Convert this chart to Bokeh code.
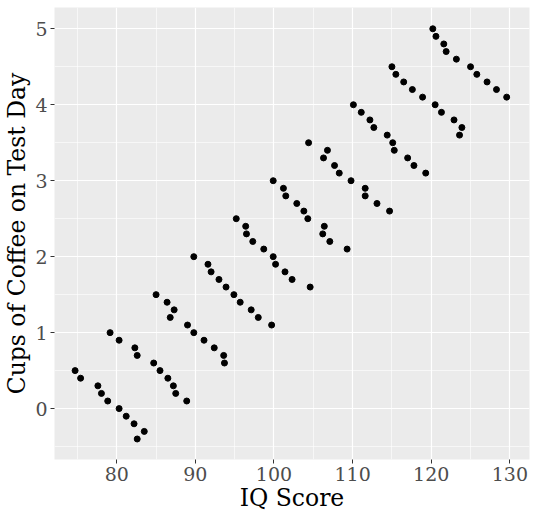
from bokeh.plotting import figure
from bokeh.models import FixedTicker
from bokeh.embed import file_html
from bokeh.resources import INLINE

# Data (IQ score vs cups of coffee), grouped in diagonal bands
iq_score = [
    74.7, 75.4, 77.6, 78.05, 78.85, 80.3, 81.2, 82.2, 83.5, 82.6,
    79.15, 80.3, 82.3, 82.6, 84.7, 85.5, 86.5, 87.2, 87.5, 88.9,
    85.0, 86.4, 87.3, 86.8, 89.0, 89.8, 91.1, 92.4, 93.6, 93.7,
    89.8, 91.6, 92.0, 93.0, 93.9, 94.9, 95.7, 97.1, 98.0, 99.7,
    95.2, 96.4, 96.5, 97.3, 98.7, 99.9, 100.2, 101.4, 102.3, 104.6,
    99.9, 101.2, 101.5, 102.9, 103.8, 104.3, 106.4, 106.2, 107.1, 109.3,
    104.4, 106.8, 106.3, 107.7, 108.3, 109.8, 111.6, 111.6, 113.1, 114.7,
    110.1, 111.1, 112.2, 112.7, 114.4, 115.1, 115.3, 117.0, 117.8, 119.3,
    115.0, 115.5, 116.5, 117.6, 118.9, 120.5, 121.3, 122.9, 123.9, 123.6,
    120.2, 120.6, 121.6, 121.9, 123.2, 125.0, 125.8, 127.1, 128.3, 129.6,
]
coffee_cups = [
    0.5, 0.4, 0.3, 0.2, 0.1, 0.0, -0.1, -0.2, -0.3, -0.4,
    1.0, 0.9, 0.8, 0.7, 0.6, 0.5, 0.4, 0.3, 0.2, 0.1,
    1.5, 1.4, 1.3, 1.2, 1.1, 1.0, 0.9, 0.8, 0.7, 0.6,
    2.0, 1.9, 1.8, 1.7, 1.6, 1.5, 1.4, 1.3, 1.2, 1.1,
    2.5, 2.4, 2.3, 2.2, 2.1, 2.0, 1.9, 1.8, 1.7, 1.6,
    3.0, 2.9, 2.8, 2.7, 2.6, 2.5, 2.4, 2.3, 2.2, 2.1,
    3.5, 3.4, 3.3, 3.2, 3.1, 3.0, 2.9, 2.8, 2.7, 2.6,
    4.0, 3.9, 3.8, 3.7, 3.6, 3.5, 3.4, 3.3, 3.2, 3.1,
    4.5, 4.4, 4.3, 4.2, 4.1, 4.0, 3.9, 3.8, 3.7, 3.6,
    5.0, 4.9, 4.8, 4.7, 4.6, 4.5, 4.4, 4.3, 4.2, 4.1,
]
x_ticks = [80, 90, 100, 110, 120, 130]
x_minor = [75, 85, 95, 105, 115, 125]
y_ticks = [0, 1, 2, 3, 4, 5]
y_minor = [-0.5, 0.5, 1.5, 2.5, 3.5, 4.5]

p = figure(
    width=536, height=519,
    x_range=(72.08, 132.5), y_range=(-0.67, 5.28),
    output_backend="svg", toolbar_location=None,
    min_border_left=54, min_border_right=7, min_border_top=7, min_border_bottom=60,
)
p.background_fill_color = "#EBEBEB"
p.border_fill_color = "white"
p.outline_line_color = None

p.scatter(iq_score, coffee_cups, size=6, color="black", line_color="black")

p.xaxis.ticker = FixedTicker(ticks=x_ticks, minor_ticks=x_minor)
p.yaxis.ticker = FixedTicker(ticks=y_ticks, minor_ticks=y_minor)

for ax in (p.xaxis, p.yaxis):
    ax.axis_line_color = None
    ax.major_tick_line_color = "#333333"
    ax.major_tick_in = 0
    ax.major_tick_out = 4
    ax.minor_tick_line_color = None
    ax.major_label_text_font = "DejaVu Serif"
    ax.major_label_text_font_size = "19px"
    ax.major_label_text_color = "#4D4D4D"
    ax.axis_label_text_font = "DejaVu Serif"
    ax.axis_label_text_font_size = "23.5px"
    ax.axis_label_text_font_style = "normal"
    ax.axis_label_text_color = "black"
    ax.major_label_standoff = 3

p.xaxis.axis_label = "IQ Score"
p.yaxis.axis_label = "Cups of Coffee on Test Day"
p.xaxis.axis_label_standoff = 0
p.yaxis.axis_label_standoff = 1

for g in (p.xgrid, p.ygrid):
    g.grid_line_color = "white"
    g.grid_line_width = 1.2
    g.minor_grid_line_color = "white"
    g.minor_grid_line_width = 0.6

open("out.html", "w").write(file_html(p, INLINE))
